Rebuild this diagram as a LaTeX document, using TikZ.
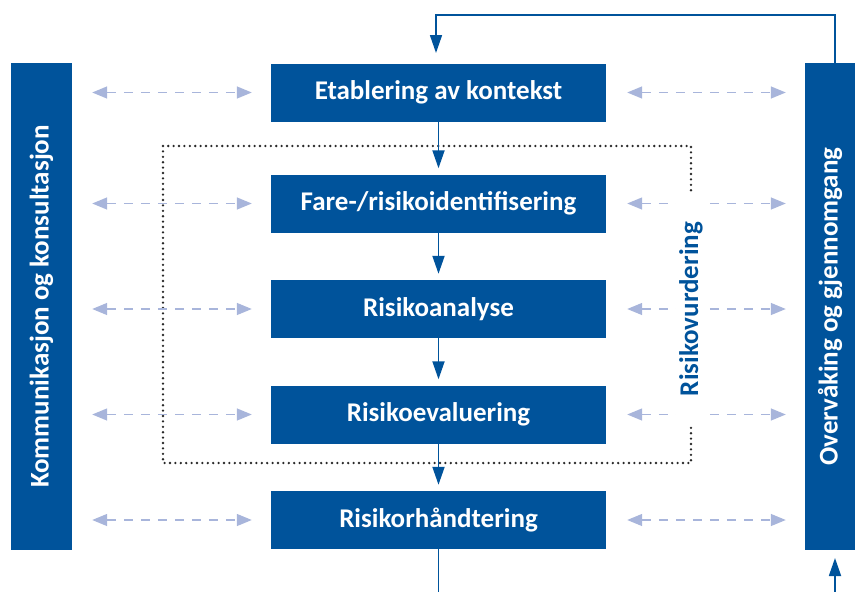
\documentclass[tikz,border=0pt]{standalone}
\usepackage{fontspec}
\setmainfont{Carlito}
\usetikzlibrary{arrows.meta}

\definecolor{riskblue}{RGB}{0,83,155}
\definecolor{linkgrey}{RGB}{168,181,219}
\definecolor{dotgrey}{RGB}{40,40,40}

\tikzset{
  procbox/.style={fill=riskblue, text=white, font=\bfseries\fontsize{27}{30}\selectfont,
    minimum width=335pt, minimum height=58pt, inner sep=0pt, anchor=center},
  sidebar/.style={fill=riskblue, text=white, font=\bfseries\fontsize{27}{30}\selectfont,
    rotate=90, minimum width=487pt, inner sep=0pt, anchor=center},
  flow/.style={draw=riskblue, line width=1.8pt,
    -{Triangle[length=18pt,width=12pt]}},
  plainflow/.style={draw=riskblue, line width=1.8pt},
  exchange/.style={draw=linkgrey, line width=1.4pt, dash pattern=on 9pt off 8pt,
    {Triangle[length=15pt,width=12pt]}-{Triangle[length=15pt,width=12pt]}},
  assessframe/.style={draw=dotgrey, line width=2.6pt, line cap=round,
    dash pattern=on 0pt off 5.4pt},
}

\begin{document}
\begin{tikzpicture}[x=1pt,y=-1pt]
  \useasboundingbox (0,0) rectangle (855,592);

  % dotted frame around the risk assessment steps
  \draw[assessframe] (163,146) rectangle (691,463);

  % process steps
  \node[procbox] (b1) at (438.5,92.5) {Etablering av kontekst};
  \node[procbox] (b2) at (438.5,203.5) {Fare-/risikoidentifisering};
  \node[procbox] (b3) at (438.5,309) {Risikoanalyse};
  \node[procbox] (b4) at (438.5,414.5) {Risikoevaluering};
  \node[procbox] (b5) at (438.5,520) {Risikorhåndtering};

  % side bars (rotated: south is the right edge, north the left edge)
  \node[sidebar, minimum height=61pt] (lbar) at (41.5,306.5) {Kommunikasjon og konsultasjon};
  \node[sidebar, minimum height=50pt] (rbar) at (830,306.5) {Overvåking og gjennomgang};

  % two-way links between the side bars and each step
  \foreach \b in {b1,b2,b3,b4,b5}{
    \draw[exchange, shorten <=20pt, shorten >=19pt] (lbar.south |- \b.west) -- (\b.west);
    \draw[exchange, shorten <=21pt, shorten >=19pt] (\b.east) -- (rbar.north |- \b.east);
  }

  % label of the assessment frame, masking the frame and links behind it
  \node[fill=white, rotate=90, minimum width=230pt, minimum height=31pt, inner sep=0pt,
        text=riskblue, font=\bfseries\fontsize{27}{30}\selectfont] (assess) at (691,309) {Risikovurdering};

  % main flow
  \draw[flow, shorten >=6pt] (b1) -- (b2);
  \draw[flow, shorten >=6pt] (b2) -- (b3);
  \draw[flow, shorten >=6pt] (b3) -- (b4);
  \draw[flow, shorten >=6pt] (b4) -- (b5);
  \coordinate (out) at (438.5,592);
  \draw[plainflow] (b5) -- (out);

  % feedback loop from monitoring back to the start
  \coordinate (mtop) at (835,63);
  \coordinate (loopR) at (835,15);
  \coordinate (loopL) at (436,15);
  \coordinate (b1top) at (436,63);
  \draw[draw=riskblue, line width=1.6pt, -{Triangle[length=18pt,width=12pt]}, shorten >=10pt]
    (mtop) -- (loopR) -- (loopL) -- (b1top);

  % input into monitoring from below
  \coordinate (min) at (835,592);
  \coordinate (mbot) at (835,550);
  \draw[flow, shorten >=8pt] (min) -- (mbot);
\end{tikzpicture}
\end{document}
